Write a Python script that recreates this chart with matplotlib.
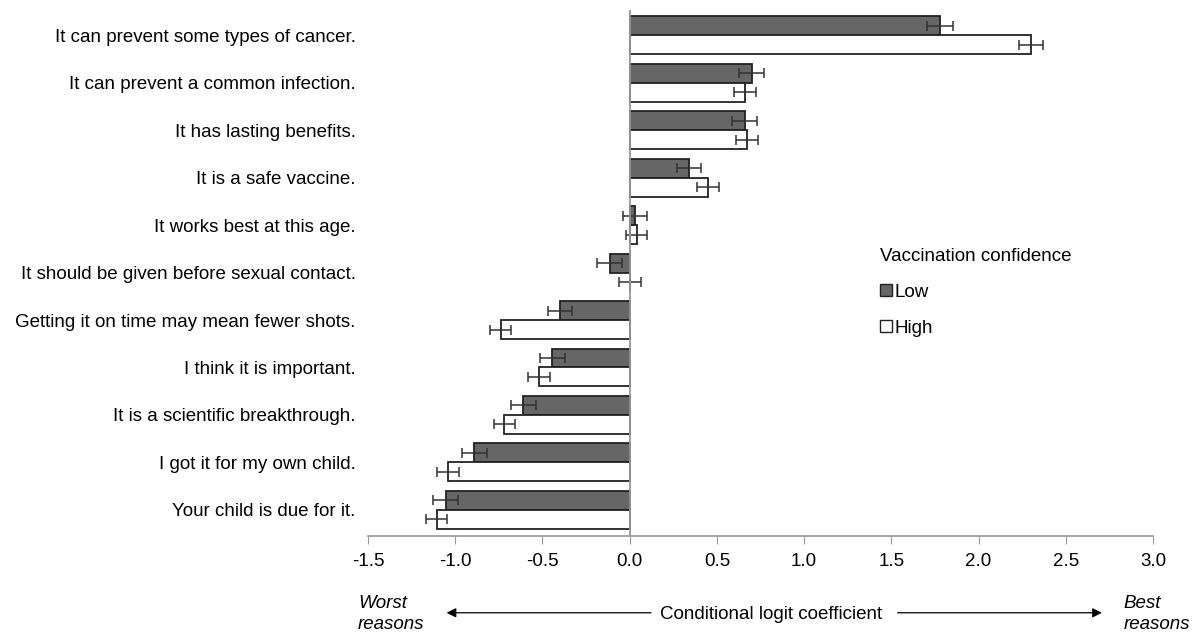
import numpy as np
import matplotlib.pyplot as plt
from matplotlib.patches import Patch

plt.rcParams['font.family'] = ['Liberation Sans', 'DejaVu Sans']

reasons = ["It can prevent some types of cancer.",
           "It can prevent a common infection.",
           "It has lasting benefits.",
           "It is a safe vaccine.",
           "It works best at this age.",
           "It should be given before sexual contact.",
           "Getting it on time may mean fewer shots.",
           "I think it is important.",
           "It is a scientific breakthrough.",
           "I got it for my own child.",
           "Your child is due for it."]
low = [1.78, 0.70, 0.66, 0.34, 0.03, -0.115, -0.40, -0.445, -0.61, -0.89, -1.055]
low_err = [0.076, 0.072, 0.072, 0.07, 0.07, 0.072, 0.07, 0.072, 0.07, 0.072, 0.07]
high = [2.30, 0.66, 0.67, 0.45, 0.04, 0.0, -0.74, -0.52, -0.72, -1.04, -1.107]
high_err = [0.07, 0.063, 0.063, 0.062, 0.062, 0.062, 0.06, 0.062, 0.06, 0.062, 0.06]
xticks = [-1.5, -1.0, -0.5, 0.0, 0.5, 1.0, 1.5, 2.0, 2.5, 3.0]

fs = 13.5
fig = plt.figure(figsize=(11.93, 6.35), dpi=100)
ax = fig.add_axes([0.3085, 0.156, 0.658, 0.828])

y = np.arange(len(reasons))
h = 0.4
ekw = dict(ecolor="#333333", elinewidth=1.1, capsize=3.8, capthick=1.1)
ax.barh(y - h/2, low, height=h, color="#666666", edgecolor="#222222", linewidth=1.3,
        xerr=low_err, error_kw=ekw, zorder=2)
ax.barh(y + h/2, high, height=h, color="white", edgecolor="#222222", linewidth=1.3,
        xerr=high_err, error_kw=ekw, zorder=2)

ax.axvline(0, color="#999999", linewidth=1.3, zorder=3)
ax.set_xlim(-1.5, 3.0)
ax.set_ylim(10.55, -0.53)
ax.set_xticks(xticks)
ax.set_xticklabels(["%.1f" % t for t in xticks], fontsize=fs)
ax.set_yticks(y)
ax.set_yticklabels(reasons, fontsize=fs)
ax.tick_params(axis="y", length=0, pad=9)
ax.tick_params(axis="x", direction="out", length=6, color="#999999", pad=6)
for s in ["top", "right", "left"]:
    ax.spines[s].set_visible(False)
ax.spines["bottom"].set_color("#999999")
ax.spines["bottom"].set_linewidth(1.2)

handles = [Patch(facecolor="#666666", edgecolor="#222222", label="Low"),
           Patch(facecolor="white", edgecolor="#222222", label="High")]
leg = ax.legend(handles=handles, title="Vaccination confidence", loc="upper left",
                bbox_to_anchor=(0.727, 0.63), bbox_transform=fig.transFigure,
                frameon=False, fontsize=fs, title_fontsize=fs, handlelength=0.6,
                handleheight=0.6, handletextpad=0.15, labelspacing=1.0,
                alignment="left", borderpad=0.2)

# bottom annotation
fig.text(0.300, 0.033, "Worst\nreasons", style="italic", fontsize=fs,
         ha="left", va="center", linespacing=1.25)
fig.text(0.942, 0.033, "Best\nreasons", style="italic", fontsize=fs,
         ha="left", va="center", linespacing=1.25)
fig.text(0.646, 0.033, "Conditional logit coefficient", fontsize=fs,
         ha="center", va="center")
fig.add_artist(plt.Annotation("", xy=(0.372, 0.035), xytext=(0.548, 0.035),
               xycoords="figure fraction",
               arrowprops=dict(arrowstyle="-|>", color="black", lw=0.9,
                               mutation_scale=14)))
fig.add_artist(plt.Annotation("", xy=(0.926, 0.035), xytext=(0.750, 0.035),
               xycoords="figure fraction",
               arrowprops=dict(arrowstyle="-|>", color="black", lw=0.9,
                               mutation_scale=14)))

fig.savefig("out.png", dpi=100)
